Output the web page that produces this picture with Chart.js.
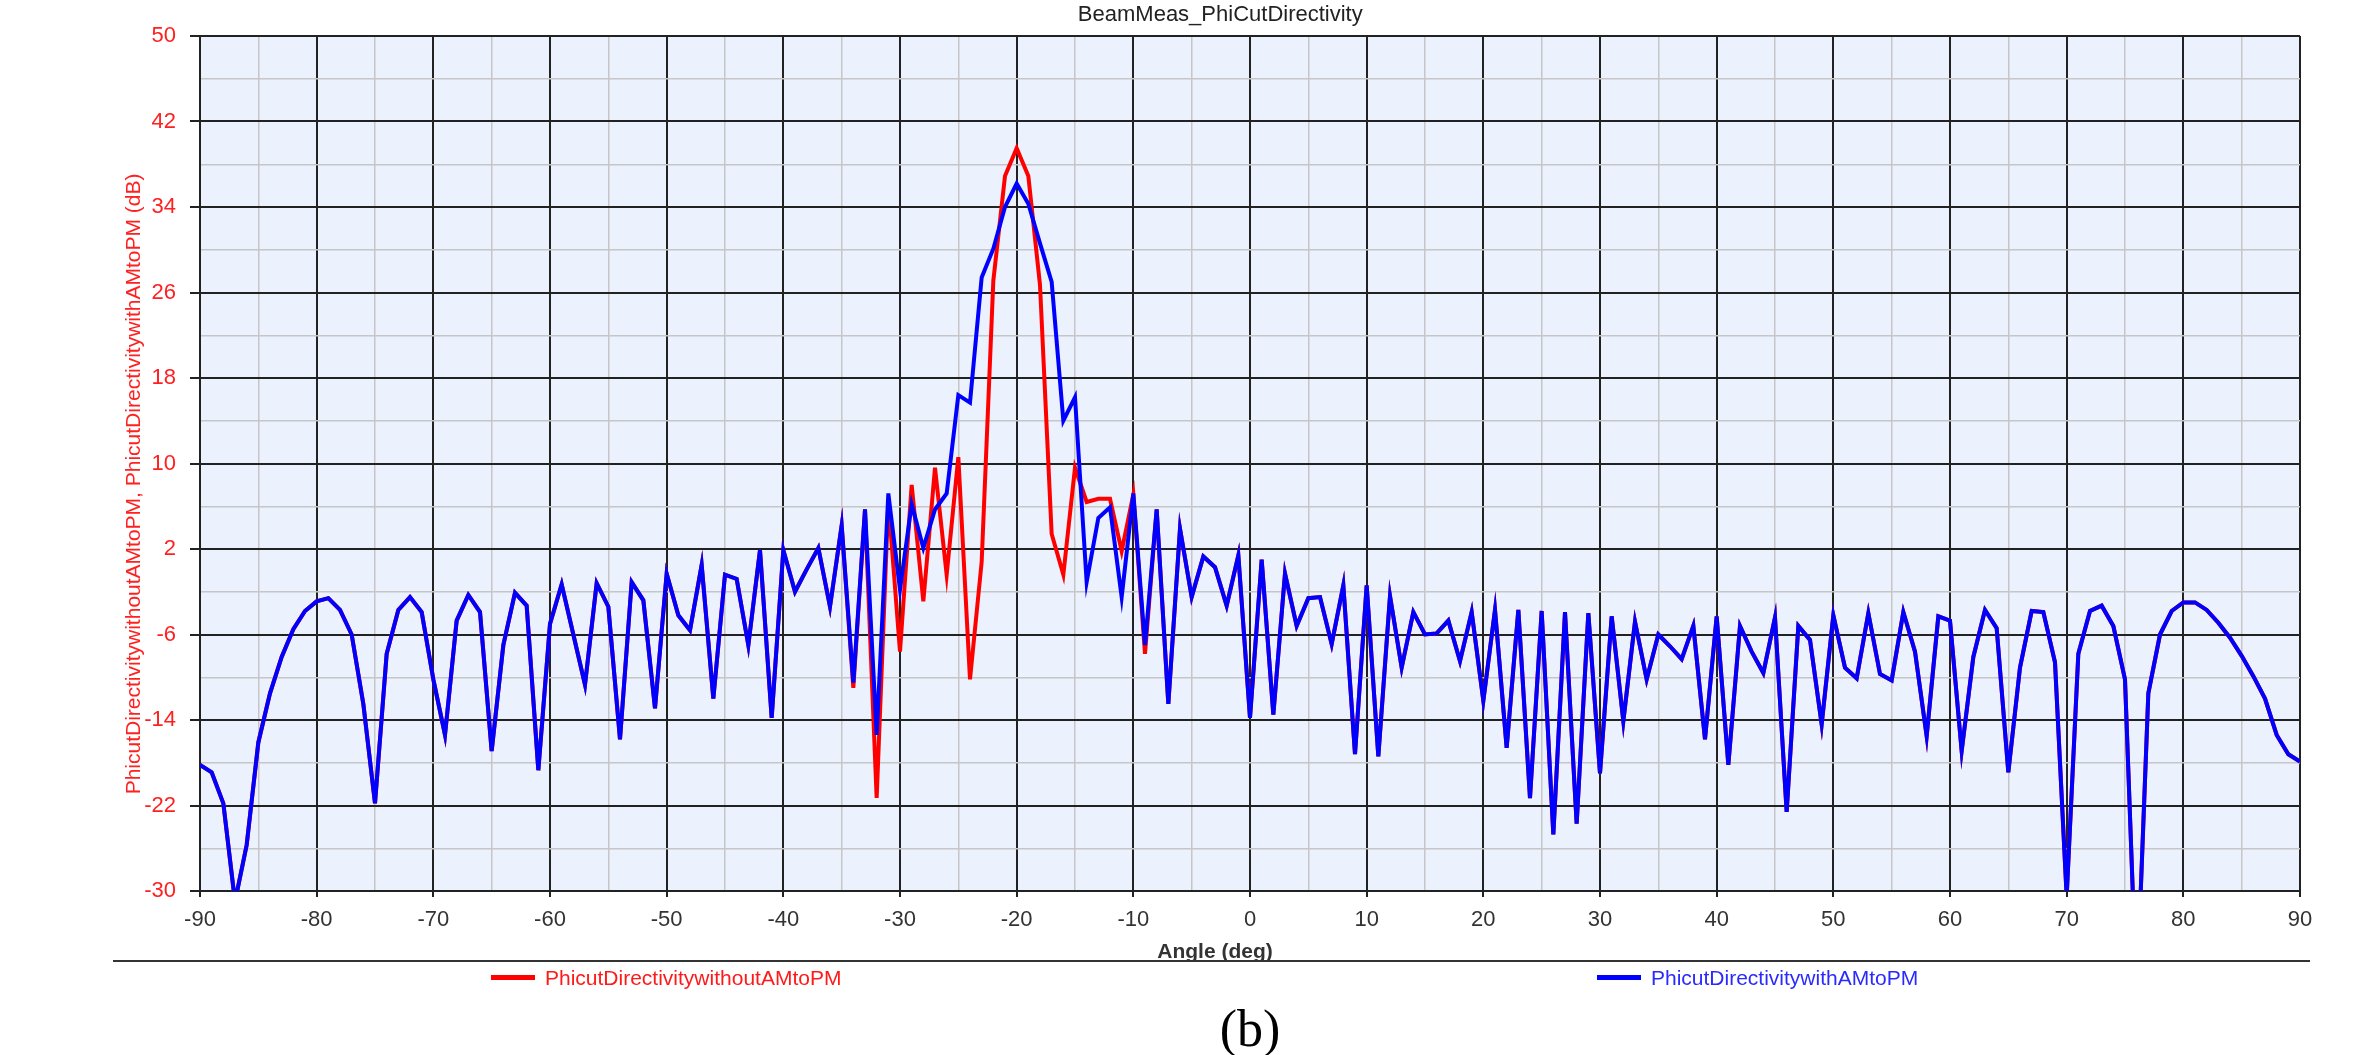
<!DOCTYPE html>
<html>
<head>
<meta charset="utf-8">
<script src="https://cdn.jsdelivr.net/npm/chart.js@4.4.1/dist/chart.umd.min.js"></script>
<style>
  body { margin: 0; background: #fff; }
  #wrap { position: relative; width: 2365px; height: 1055px; font-family: 'Liberation Sans', Arial, sans-serif; }
  #sep { position: absolute; left: 113px; top: 960px; width: 2197px; height: 2px; background: #333; }
  .lgline { position: absolute; height: 5px; top: 975px; width: 44px; }
  .lgtext { position: absolute; top: 965px; font-size: 21px; line-height: 26px; }
  #tag { position: absolute; left: 0; width: 2500px; text-align: center; top: 998px; font-family: 'Liberation Serif', 'Times New Roman', serif; font-size: 52px; line-height: 62px; color: #000; }
</style>
</head>
<body>
<div id="wrap">
  <canvas id="mycanvas" width="2365" height="1055"></canvas>
  <div id="sep"></div>
  <div class="lgline" style="left:491px;background:#ff0000"></div>
  <div class="lgtext" style="left:545px;color:#ff1a1a">PhicutDirectivitywithoutAMtoPM</div>
  <div class="lgline" style="left:1597px;background:#0000ff"></div>
  <div class="lgtext" style="left:1651px;color:#2a2aff">PhicutDirectivitywithAMtoPM</div>
  <div id="tag">(b)</div>
</div>
<script>
var angles = [-90,-89,-88,-87,-86,-85,-84,-83,-82,-81,-80,-79,-78,-77,-76,-75,-74,-73,-72,-71,
  -70,-69,-68,-67,-66,-65,-64,-63,-62,-61,-60,-59,-58,-57,-56,-55,-54,-53,-52,-51,
  -50,-49,-48,-47,-46,-45,-44,-43,-42,-41,-40,-39,-38,-37,-36,-35,-34,-33,-32,-31,
  -30,-29,-28,-27,-26,-25,-24,-23,-22,-21,-20,-19,-18,-17,-16,-15,-14,-13,-12,-11,
  -10,-9,-8,-7,-6,-5,-4,-3,-2,-1,0,1,2,3,4,5,6,7,8,9,
  10,11,12,13,14,15,16,17,18,19,20,21,22,23,24,25,26,27,28,29,
  30,31,32,33,34,35,36,37,38,39,40,41,42,43,44,45,46,47,48,49,
  50,51,52,53,54,55,56,57,58,59,60,61,62,63,64,65,66,67,68,69,
  70,71,72,73,74,75,76,77,78,79,80,81,82,83,84,85,86,87,88,89,90];

var withoutAMtoPM = [-18.2,-18.9,-21.8,-31,-25.7,-16.1,-11.5,-8.1,-5.5,-3.8,-2.9,-2.6,-3.7,-6.0,-12.5,-21.8,-7.8,-3.7,-2.5,-3.9,
  -10.2,-15.4,-4.7,-2.3,-3.9,-16.9,-7.0,-2.1,-3.3,-18.7,-5.0,-1.3,-6.0,-10.7,-1.2,-3.4,-15.8,-1.1,-2.8,-12.9,
  -0.3,-4.2,-5.6,0.5,-12.0,-0.4,-0.8,-7.0,1.9,-13.8,1.9,-2.0,0.1,2.1,-3.4,4.2,-11.0,5.7,-21.3,6.5,
  -7.6,8.0,-2.9,9.6,-0.4,10.6,-10.2,0.8,27.1,36.9,39.5,36.9,26.7,3.4,-0.4,9.6,6.4,6.7,6.7,1.8,
  7.1,-7.8,5.7,-12.5,3.9,-2.5,1.3,0.3,-3.3,1.4,-13.8,1.0,-13.5,-0.3,-5.2,-2.6,-2.5,-6.9,-1.4,-17.2,
  -1.4,-17.4,-2.4,-9.1,-3.9,-6.0,-5.9,-4.7,-8.5,-3.9,-12.2,-3.7,-16.6,-3.7,-21.3,-3.8,-24.7,-3.9,-23.7,-4.0,
  -19.0,-4.3,-14.1,-4.8,-10.2,-6.0,-7.1,-8.3,-5.2,-15.8,-4.3,-18.2,-5.2,-7.6,-9.6,-4.4,-22.6,-5.2,-6.5,-14.4,
  -4.2,-9.1,-10.1,-4.0,-9.7,-10.3,-3.9,-7.6,-15.5,-4.3,-4.7,-16.9,-8.1,-3.7,-5.4,-18.9,-9.1,-3.8,-3.9,-8.6,
  -30.5,-7.8,-3.8,-3.3,-5.2,-10.2,-40,-11.5,-6.0,-3.8,-3.0,-3.0,-3.7,-4.9,-6.3,-8.0,-9.9,-12.0,-15.4,-17.2,-17.9];

var withAMtoPM = [-18.2,-18.9,-21.8,-31,-25.7,-16.1,-11.5,-8.1,-5.5,-3.8,-2.9,-2.6,-3.7,-6.0,-12.5,-21.8,-7.8,-3.7,-2.5,-3.9,
  -10.2,-15.4,-4.7,-2.3,-3.9,-16.9,-7.0,-2.1,-3.3,-18.7,-5.0,-1.3,-6.0,-10.7,-1.2,-3.4,-15.8,-1.1,-2.8,-12.9,
  -0.3,-4.2,-5.6,0.5,-12.0,-0.4,-0.8,-7.0,1.9,-13.8,1.9,-2.0,0.1,2.1,-3.4,4.2,-10.5,5.7,-15.4,7.2,
  -1.8,6.2,2.1,5.7,7.2,16.4,15.7,27.4,30.1,34.0,36.2,34.3,30.6,27.0,14.0,16.2,-1.1,4.9,5.9,-2.5,
  7.2,-7.0,5.7,-12.5,3.9,-2.5,1.3,0.3,-3.3,1.4,-13.8,1.0,-13.5,-0.3,-5.2,-2.6,-2.5,-6.9,-1.4,-17.2,
  -1.4,-17.4,-2.4,-9.1,-3.9,-6.0,-5.9,-4.7,-8.5,-3.9,-12.2,-3.7,-16.6,-3.7,-21.3,-3.8,-24.7,-3.9,-23.7,-4.0,
  -19.0,-4.3,-14.1,-4.8,-10.2,-6.0,-7.1,-8.3,-5.2,-15.8,-4.3,-18.2,-5.2,-7.6,-9.6,-4.4,-22.6,-5.2,-6.5,-14.4,
  -4.2,-9.1,-10.1,-4.0,-9.7,-10.3,-3.9,-7.6,-15.5,-4.3,-4.7,-16.9,-8.1,-3.7,-5.4,-18.9,-9.1,-3.8,-3.9,-8.6,
  -30.5,-7.8,-3.8,-3.3,-5.2,-10.2,-40,-11.5,-6.0,-3.8,-3.0,-3.0,-3.7,-4.9,-6.3,-8.0,-9.9,-12.0,-15.4,-17.2,-17.9];

var xMin = -90, xMax = 90, xStep = 5, xMajor = 10;
var yMin = -30, yMax = 50, yStep = 4, yMajor = 8;

function toPoints(vals) {
  var pts = [];
  for (var i = 0; i < angles.length; i++) {
    pts.push({x: angles[i], y: vals[i]});
  }
  return pts;
}

var isMajorX = (v) => (v - xMin) % xMajor === 0;
var isMajorY = (v) => (yMax - v) % yMajor === 0;

var plotBg = {
  id: 'plotBg',
  beforeDraw: function(chart) {
    var a = chart.chartArea, c = chart.ctx;
    c.save();
    c.fillStyle = '#ebf1fd';
    c.fillRect(a.left, a.top, a.right - a.left, a.bottom - a.top);
    c.restore();
  }
};

var font = "'Liberation Sans', Arial, sans-serif";

new Chart(document.getElementById('mycanvas'), {
  type: 'line',
  data: {
    datasets: [
      {
        label: 'PhicutDirectivitywithoutAMtoPM',
        data: toPoints(withoutAMtoPM),
        borderColor: '#ff0000',
        borderWidth: 4,
        pointRadius: 0,
        tension: 0,
        order: 1
      },
      {
        label: 'PhicutDirectivitywithAMtoPM',
        data: toPoints(withAMtoPM),
        borderColor: '#0000ff',
        borderWidth: 4,
        pointRadius: 0,
        tension: 0,
        order: 0
      }
    ]
  },
  options: {
    responsive: false,
    animation: false,
    devicePixelRatio: 1,
    layout: { padding: { left: 110, right: 65, top: 0, bottom: 0 } },
    plugins: {
      legend: { display: false },
      tooltip: { enabled: false },
      title: {
        display: true,
        // leading spaces nudge the centred title right to where the original sits
        text: '     BeamMeas_PhiCutDirectivity',
        color: '#222',
        font: { family: font, size: 22, weight: 'normal' },
        padding: { top: 2, bottom: 7.6 }
      }
    },
    scales: {
      x: {
        type: 'linear',
        min: xMin,
        max: xMax,
        afterFit: function(s) { s.height = 164; },
        ticks: {
          stepSize: xStep,
          autoSkip: false,
          maxRotation: 0,
          padding: 10,
          color: '#333',
          font: { family: font, size: 22 },
          callback: function(v) { return isMajorX(v) ? String(v) : ''; }
        },
        grid: {
          tickLength: 6,
          color: (ctx) => isMajorX(ctx.tick.value) ? '#222' : '#c6c6c6',
          lineWidth: (ctx) => isMajorX(ctx.tick.value) ? 2 : 1.5,
          tickColor: (ctx) => isMajorX(ctx.tick.value) ? '#222' : 'rgba(0,0,0,0)'
        },
        border: { color: '#222', width: 2 },
        title: {
          display: true,
          text: 'Angle (deg)            ',
          color: '#333',
          font: { family: font, size: 21, weight: 'bold' },
          padding: { top: 0, bottom: 90 }
        }
      },
      y: {
        min: yMin,
        max: yMax,
        afterFit: function(s) { s.width = 90; },
        ticks: {
          stepSize: yStep,
          padding: 14,
          color: '#ff2020',
          font: { family: font, size: 22 },
          callback: function(v) { return isMajorY(v) ? String(v) : ''; }
        },
        grid: {
          tickLength: 10,
          color: (ctx) => isMajorY(ctx.tick.value) ? '#222' : '#c6c6c6',
          lineWidth: (ctx) => isMajorY(ctx.tick.value) ? 2 : 1.5,
          tickColor: (ctx) => isMajorY(ctx.tick.value) ? '#222' : 'rgba(0,0,0,0)'
        },
        border: { color: '#222', width: 2 },
        title: {
          display: true,
          text: 'PhicutDirectivitywithoutAMtoPM, PhicutDirectivitywithAMtoPM (dB)       ',
          color: '#ff2020',
          font: { family: font, size: 21 },
          padding: { top: 12, bottom: 0 }
        }
      }
    }
  },
  plugins: [plotBg]
});
</script>
</body>
</html>
